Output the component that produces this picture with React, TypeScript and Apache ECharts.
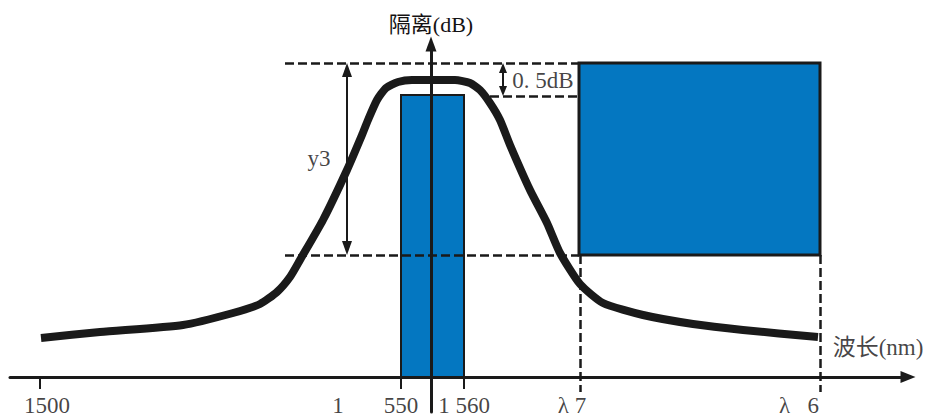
import React, { useEffect, useRef } from "react";
import * as echarts from "echarts";

// Schematic units: x = 0 on the isolation axis, y = 0 on the wavelength axis.
const X_MIN = -421;
const X_MAX = 477;
const Y_MIN = -35;
const Y_MAX = 333;

// Isolation curve of the filter.
const curveX = [-390, -331, -248, -198, -171, -154, -141, -131, -108, -84, -69, -63, -54, -45, -33, -19, 0, 24, 39, 49, 59, 69, 79, 99, 116, 129, 149, 172, 212, 262, 312, 387];
const curveY = [39, 45, 52, 64, 73, 85, 100, 117, 157, 207, 242, 257, 277, 289, 295, 297, 297, 297, 294, 287, 274, 257, 232, 187, 154, 124, 93, 74, 62, 53, 47, 40];

// Blue regions: [x0, y0, x1, y1]
const passBand = [-30, 0, 33, 282];
const isolationBand = [148, 122, 389, 314];

// Wavelength axis ticks and labels.
const tickValues = [-391, -30, 33];
const labelValues = [-384, -93, -30, 33, 141, 368];
const labelTexts = ["1500", "1", "550", "1 560", "λ 7", "λ   6"];
const labelLevel = -28;

// Reference levels.
const topLevel = 314;
const rippleLevel = 281;
const y3Level = 122;
const guideStart = -146;
const rippleStart = 59;
const edge7 = 149;
const edge6 = 389;
const guideBottom = -15;

// Dimension arrows.
const y3ArrowX = -84;
const rippleArrowX = 72;

// Annotations.
const noteTexts = ["y3", "0. 5dB", "波长(nm)"];
const noteX = [-112, 112, 447];
const noteY = [219, 297, 30];

const INK = "#1a1a1a";
const BLUE = "#0477c1";
const TEXT = "#141213";
const FONT = '"Liberation Serif", "Noto Sans CJK SC", serif';

export default function App() {
  const ref = useRef<HTMLDivElement>(null);

  useEffect(() => {
    if (!ref.current) return;
    const chart = echarts.init(ref.current, undefined, { renderer: "svg" });

    const dashed = { color: INK, width: 2.5, type: [9, 4] as number[] };
    const seg = (a: number[], b: number[]) => [
      { coord: a, lineStyle: dashed },
      { coord: b },
    ];

    const rectItem = (fill: string, stroke: string, lw: number) =>
      (params: any, api: any) => {
        const p0 = api.coord([api.value(0), api.value(3)]);
        const p1 = api.coord([api.value(2), api.value(1)]);
        return {
          type: "rect",
          shape: { x: p0[0], y: p0[1], width: p1[0] - p0[0], height: p1[1] - p0[1] },
          style: { fill, stroke, lineWidth: lw },
        };
      };

    const textLabel = {
      show: true,
      position: "inside",
      formatter: "{b}",
      fontSize: 23,
      fontFamily: FONT,
      color: TEXT,
    };

    const option: any = {
      animation: false,
      grid: { left: 10, right: 20, top: 44, bottom: 6, containLabel: false, outerBoundsMode: "none" },
      xAxis: {
        type: "value",
        min: X_MIN,
        max: X_MAX,
        z: 3,
        splitLine: { show: false },
        axisLine: {
          show: true,
          onZero: true,
          symbol: ["none", "triangle"],
          symbolSize: [12, 15],
          lineStyle: { color: INK, width: 3 },
        },
        axisTick: {
          show: true,
          customValues: tickValues,
          inside: false,
          length: 12,
          lineStyle: { color: INK, width: 2 },
        },
        axisLabel: { show: false },
      },
      yAxis: {
        type: "value",
        min: Y_MIN,
        max: Y_MAX,
        z: 3,
        name: "隔离(dB)",
        nameLocation: "end",
        nameGap: 9,
        nameTextStyle: { fontSize: 22, fontFamily: FONT, color: TEXT },
        splitLine: { show: false },
        axisTick: { show: false },
        axisLabel: { show: false },
        axisLine: {
          show: true,
          onZero: true,
          symbol: ["none", "triangle"],
          symbolSize: [11, 15],
          lineStyle: { color: INK, width: 3 },
        },
      },
      series: [
        {
          type: "custom",
          z: 1,
          renderItem: rectItem(BLUE, INK, 2),
          encode: { x: [0, 2], y: [1, 3] },
          data: [passBand],
        },
        {
          type: "custom",
          z: 1,
          renderItem: rectItem(BLUE, INK, 3),
          encode: { x: [0, 2], y: [1, 3] },
          data: [isolationBand],
        },
        {
          type: "line",
          z: 2,
          data: [],
          markLine: {
            silent: true,
            symbol: "none",
            label: { show: false },
            data: [
              seg([guideStart, topLevel], [edge7 - 1, topLevel]),
              seg([rippleStart, rippleLevel], [edge7 - 1, rippleLevel]),
              seg([guideStart, y3Level], [edge7 - 1, y3Level]),
              seg([edge7, y3Level], [edge7, guideBottom]),
              seg([edge6, y3Level], [edge6, guideBottom]),
            ],
          },
        },
        {
          type: "line",
          z: 2,
          data: [],
          markLine: {
            silent: true,
            symbol: ["triangle", "triangle"],
            symbolSize: [10, 14],
            label: { show: false },
            lineStyle: { color: INK, width: 2, type: "solid" },
            data: [[{ coord: [y3ArrowX, y3Level + 7] }, { coord: [y3ArrowX, topLevel - 7] }]],
          },
        },
        {
          type: "line",
          z: 2,
          data: [],
          markLine: {
            silent: true,
            symbol: ["triangle", "triangle"],
            symbolSize: [8, 10],
            label: { show: false },
            lineStyle: { color: INK, width: 2, type: "solid" },
            data: [[{ coord: [rippleArrowX, rippleLevel + 5] }, { coord: [rippleArrowX, topLevel - 5] }]],
          },
        },
        {
          type: "line",
          z: 4,
          smooth: 0.2,
          symbol: "none",
          lineStyle: { color: INK, width: 8, cap: "butt", join: "round" },
          data: curveX.map((x, i) => [x, curveY[i]]),
        },
        {
          type: "scatter",
          z: 5,
          symbolSize: 0,
          data: noteTexts.map((t, i) => ({ value: [noteX[i], noteY[i]], name: t })),
          label: textLabel,
        },
        {
          type: "scatter",
          z: 5,
          symbolSize: 0,
          data: labelTexts.map((t, i) => ({ value: [labelValues[i], labelLevel], name: t })),
          label: textLabel,
        },
      ],
    };

    chart.setOption(option);
    return () => chart.dispose();
  }, []);

  return (
    <div
      ref={ref}
      style={{ position: "fixed", left: 0, top: 0, width: 928, height: 418, background: "#fff" }}
    />
  );
}
